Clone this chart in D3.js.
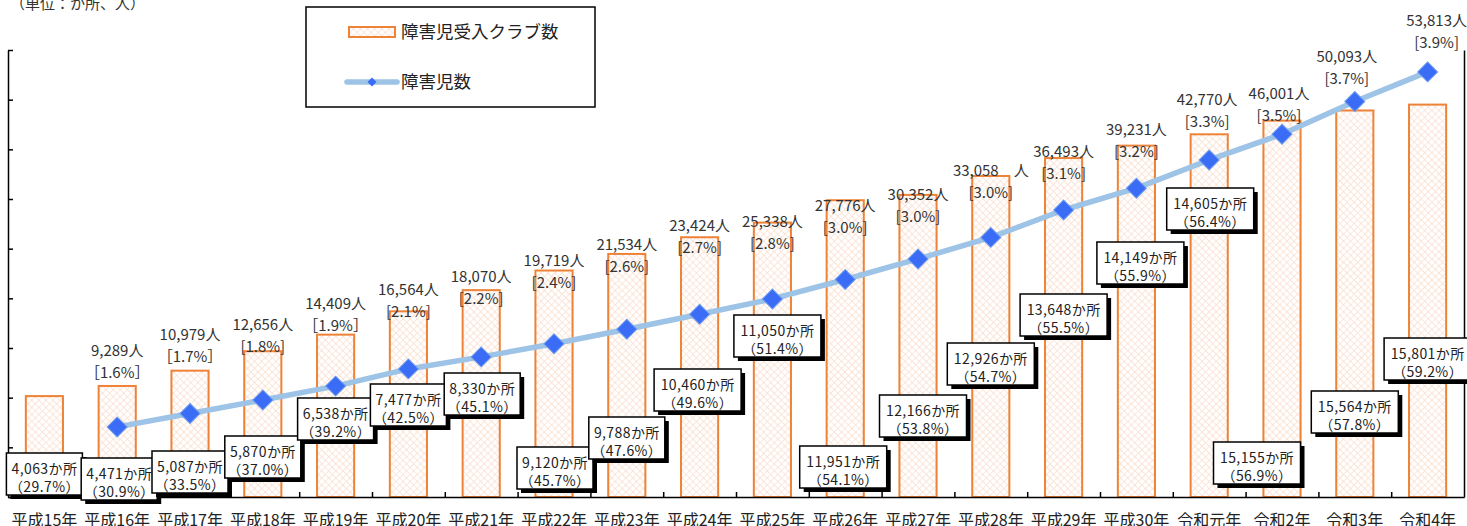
<!DOCTYPE html>
<html>
<head>
<meta charset="utf-8">
<script src="https://cdn.jsdelivr.net/npm/d3@7"></script>
<style>
  html, body { margin: 0; padding: 0; background: #fff; }
  svg { display: block; font-family: "Noto Sans CJK JP", "Noto Sans", sans-serif; }
</style>
</head>
<body>
<svg id="chart" width="1467" height="526"></svg>
<script>
// ---- data ----
const years = ["平成15年", "平成16年", "平成17年", "平成18年", "平成19年", "平成20年", "平成21年",
  "平成22年", "平成23年", "平成24年", "平成25年", "平成26年", "平成27年", "平成28年", "平成29年",
  "平成30年", "令和元年", "令和2年", "令和3年", "令和4年"];

// clubs accepting children with disabilities (か所) and their share of all clubs (%)
const clubCounts = [4063, 4471, 5087, 5870, 6538, 7477, 8330, 9120, 9788, 10460, 11050, 11951,
  12166, 12926, 13648, 14149, 14605, 15155, 15564, 15801];
const clubShare = [29.7, 30.9, 33.5, 37.0, 39.2, 42.5, 45.1, 45.7, 47.6, 49.6, 51.4, 54.1,
  53.8, 54.7, 55.5, 55.9, 56.4, 56.9, 57.8, 59.2];

// children with disabilities enrolled (人) and their share of all enrolled children (%)
const childCounts = [null, 9289, 10979, 12656, 14409, 16564, 18070, 19719, 21534, 23424, 25338,
  27776, 30352, 33058, 36493, 39231, 42770, 46001, 50093, 53813];
const childShare = [null, 1.6, 1.7, 1.8, 1.9, 2.1, 2.2, 2.4, 2.6, 2.7, 2.8, 3.0, 3.0, 3.0,
  3.1, 3.2, 3.3, 3.5, 3.7, 3.9];

const clubTicks = [0, 2000, 4000, 6000, 8000, 10000, 12000, 14000, 16000, 18000];
const childDomain = [500, 56560];

// ---- label layout (pixels) ----
const clubTagTop = [453, 458, 451, 436, 398, 384, 373, 447, 417, 369, 315, 446, 395, 343, 294,
  242, 188, 442, 391, 338];
const clubTagShift = [0, 2, 0, 0, 0, 0, 1, 1, 0, -2, 5, -2, 5, 0, 0, 4, 1, -25, 0, 0];
const childTagLift = [null, 54, 57, 53, 60, 57, 58, 61, 63, 66, 55, 52, 42, 45, 36, 36, 38, 18, 23, 29];
const childTagShift = [0, 0, 0, 0, 0, 0, 0, 0, 0, 0, 0, 0, 0, 0, 0, 0, -2, -3, -8, 9];
const wideBracket = new Set([1, 2, 4]);

// ---- chart ----
const svg = d3.select("#chart");
const plotL = 8, plotR = 1464, plotT = 50, plotB = 497;

const x = d3.scaleBand().domain(years).range([plotL, plotR])
  .paddingInner(0.49).paddingOuter(0.245);
const yClub = d3.scaleLinear().domain([0, 18000]).range([plotB, plotT]);
const yChild = d3.scaleLinear().domain(childDomain).range([plotB, plotT]);
const cx = i => x(years[i]) + x.bandwidth() / 2;

const defs = svg.append("defs");
const pat = defs.append("pattern").attr("id", "lattice")
  .attr("patternUnits", "userSpaceOnUse").attr("width", 5).attr("height", 5)
  .attr("patternTransform", "rotate(45)");
pat.append("rect").attr("width", 5).attr("height", 5).attr("fill", "#fff");
pat.append("path").attr("d", "M0,0H5M0,0V5").attr("stroke", "#FBDDCB").attr("stroke-width", 1.4);

// unit caption
svg.append("text").attr("x", 10).attr("y", 8.5).attr("font-size", 15).attr("fill", "#333")
  .text("（単位：か所、人）");

// bars
svg.append("g").selectAll("rect").data(clubCounts).join("rect")
  .attr("x", (d, i) => x(years[i]))
  .attr("y", d => yClub(d))
  .attr("width", x.bandwidth())
  .attr("height", d => yClub(0) - yClub(d))
  .attr("fill", "url(#lattice)")
  .attr("stroke", "#EE8236").attr("stroke-width", 2);

// left axis (ticks pointing inward)
const leftAxis = svg.append("g").attr("transform", `translate(${plotL},0)`)
  .call(d3.axisRight(yClub).tickValues(clubTicks).tickSize(5).tickSizeOuter(0).tickFormat(""));
leftAxis.select(".domain").attr("stroke", "#000").attr("stroke-width", 1.5);
leftAxis.selectAll(".tick line").attr("stroke", "#000").attr("stroke-width", 1.5);

// right axis line
const rightAxis = svg.append("g").attr("transform", `translate(${plotR},0)`)
  .call(d3.axisLeft(yChild).tickValues([]).tickSizeOuter(0));
rightAxis.select(".domain").attr("stroke", "#000").attr("stroke-width", 1.5);

// bottom axis: category boundary ticks pointing up
const boundary = d3.scaleLinear().domain([0, years.length]).range([plotL, plotR]);
const bAxis = svg.append("g").attr("transform", `translate(0,${plotB})`)
  .call(d3.axisTop(boundary).tickValues(d3.range(1, years.length)).tickSize(5)
    .tickSizeOuter(0).tickFormat(""));
bAxis.select(".domain").attr("stroke", "#000").attr("stroke-width", 1.5);
bAxis.selectAll(".tick line").attr("stroke", "#000").attr("stroke-width", 1.5);

// category labels
const xAxis = svg.append("g").attr("transform", `translate(0,${plotB})`)
  .call(d3.axisBottom(x).tickSize(0));
xAxis.select(".domain").remove();
xAxis.selectAll("text").attr("y", 28.5).attr("dy", 0)
  .attr("font-size", 16).attr("font-family", "\"Noto Sans CJK JP\", sans-serif").attr("fill", "#222");

// line
const pts = childCounts.map((v, i) => ({ v, i })).filter(p => p.v != null);
const line = d3.line().x(p => cx(p.i)).y(p => yChild(p.v));
svg.append("path").datum(pts).attr("d", line)
  .attr("fill", "none").attr("stroke", "#9DC3E6").attr("stroke-width", 5.5)
  .attr("stroke-linejoin", "round");

const diamond = d3.symbol(d3.symbolSquare, 200);
svg.append("g").selectAll("path").data(pts).join("path")
  .attr("d", diamond)
  .attr("transform", p => `translate(${cx(p.i)},${yChild(p.v)}) rotate(45)`)
  .attr("fill", "#3A6CF6").attr("stroke", "#6E9BEF").attr("stroke-width", 1);

// child count labels
const fmt = d3.format(",");
const pct = d3.format(".1f");
const childTags = svg.append("g").attr("font-size", 15).attr("fill", "#333").attr("text-anchor", "middle");
pts.forEach(p => {
  const tx = cx(p.i) + childTagShift[p.i];
  const ty = yChild(p.v) - childTagLift[p.i];
  childTags.append("text").attr("x", tx).attr("y", ty - 22).attr("dy", "0.35em")
    .text(fmt(p.v) + (p.i === 13 ? "　人" : "人"));
  const s = pct(childShare[p.i]) + "%";
  childTags.append("text").attr("x", tx).attr("y", ty).attr("dy", "0.35em")
    .text(wideBracket.has(p.i) ? "［" + s + "］" : "[" + s + "]");
});

// club count tags (boxed, with drop shadow)
const tags = svg.append("g").selectAll("g").data(clubCounts).join("g")
  .attr("transform", (d, i) => `translate(${cx(i) + clubTagShift[i]},${clubTagTop[i]})`);
tags.each(function (d, i) {
  const g = d3.select(this);
  const label = fmt(d) + "か所";
  const w = label.length * 11 - 1, h = 42;
  g.append("rect").attr("x", -w / 2 + 4).attr("y", 4).attr("width", w).attr("height", h).attr("fill", "#000");
  g.append("rect").attr("x", -w / 2).attr("y", 0).attr("width", w).attr("height", h)
    .attr("fill", "#fff").attr("stroke", "#000").attr("stroke-width", 1.5);
  g.append("text").attr("y", 16).attr("dy", "0.35em").attr("text-anchor", "middle")
    .attr("font-size", 14).attr("fill", "#222").attr("letter-spacing", 0.4).text(label);
  g.append("text").attr("y", 34).attr("dy", "0.35em").attr("text-anchor", "middle")
    .attr("font-size", 14).attr("fill", "#222").attr("letter-spacing", 0.4)
    .text("（" + pct(clubShare[i]) + "%）");
});

// legend
const lg = svg.append("g");
lg.append("rect").attr("x", 306).attr("y", 7).attr("width", 289).attr("height", 100)
  .attr("fill", "#fff").attr("stroke", "#000").attr("stroke-width", 1.5);
lg.append("rect").attr("x", 349).attr("y", 27).attr("width", 46).attr("height", 10)
  .attr("fill", "url(#lattice)").attr("stroke", "#EE8236").attr("stroke-width", 2);
lg.append("text").attr("x", 401).attr("y", 32).attr("dy", "0.35em").attr("font-size", 17.5)
  .attr("fill", "#222").text("障害児受入クラブ数");
lg.append("line").attr("x1", 347).attr("x2", 397).attr("y1", 82).attr("y2", 82)
  .attr("stroke", "#9DC3E6").attr("stroke-width", 5.5).attr("stroke-linecap", "round");
lg.append("path").attr("d", d3.symbol(d3.symbolSquare, 40))
  .attr("transform", "translate(372,82) rotate(45)").attr("fill", "#3A6CF6");
lg.append("text").attr("x", 401).attr("y", 82).attr("dy", "0.35em").attr("font-size", 17.5)
  .attr("fill", "#222").text("障害児数");
</script>
</body>
</html>
